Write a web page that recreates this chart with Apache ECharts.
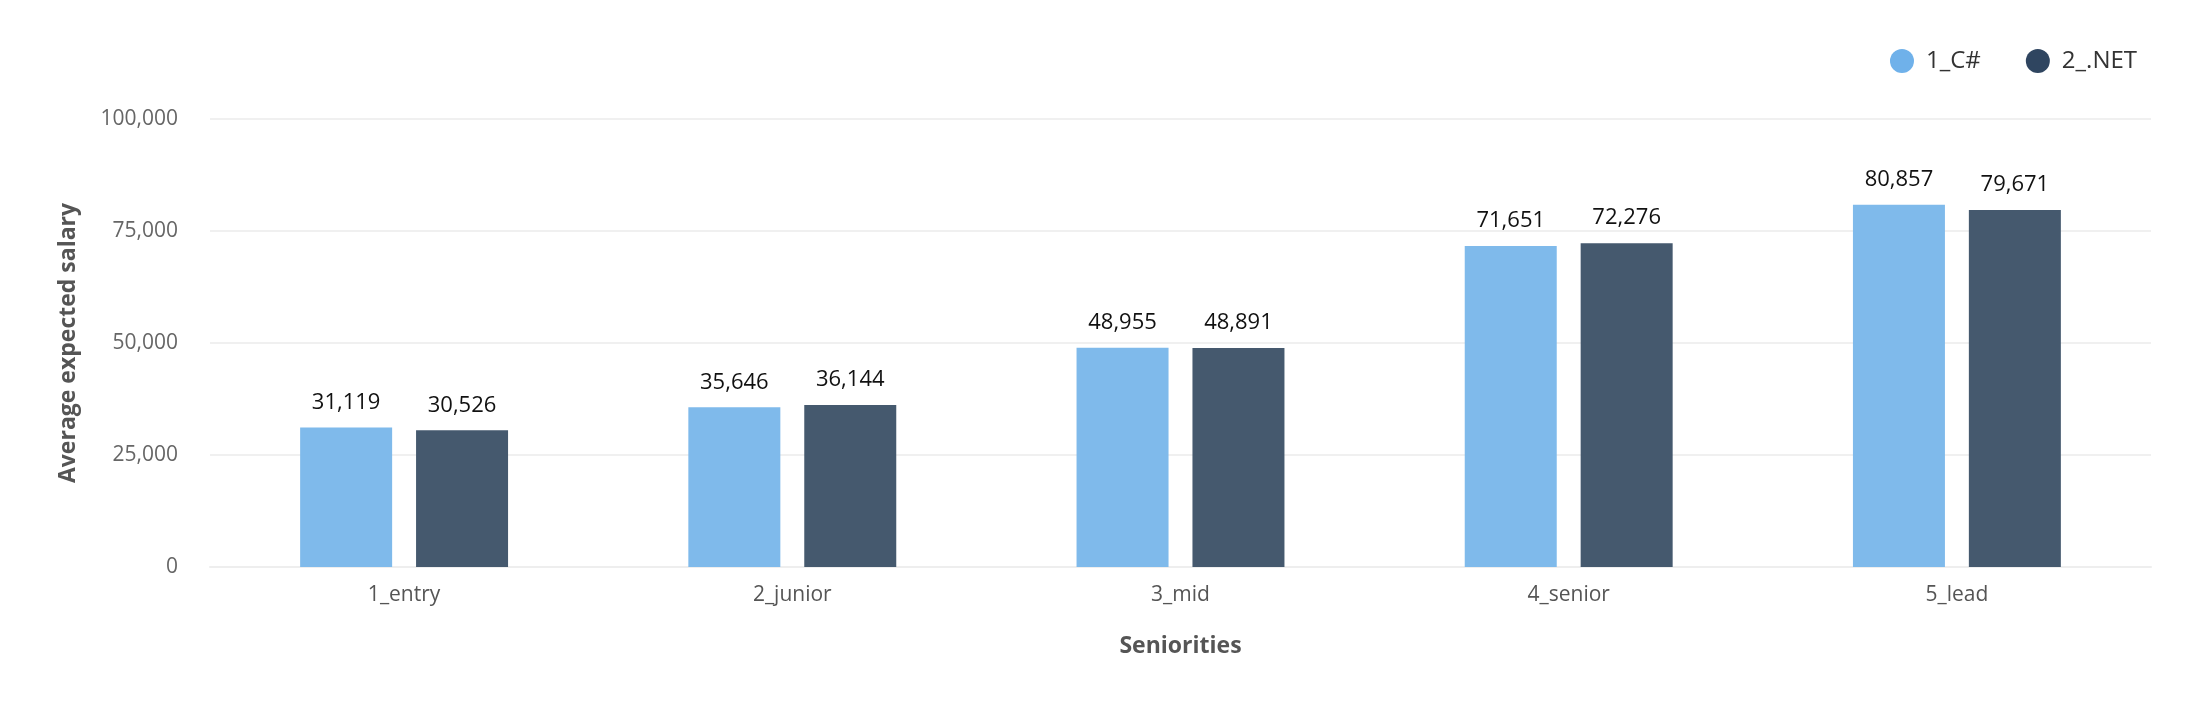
<!DOCTYPE html>
<html lang="en">
  <head>
    <meta charset="UTF-8" />
    <script src="https://cdn.jsdelivr.net/npm/echarts@6/dist/echarts.min.js"></script>
    <title>Average expected salary</title>
    <style>
      html, body { margin: 0; padding: 0; background: #fff; }
    </style>
  </head>
  <body>
    <div id="main" style="width: 2210px; height: 716px"></div>
    <script>
      // categories on the x axis
      const seniorities = ["1_entry", "2_junior", "3_mid", "4_senior", "5_lead"];
      // series
      const csharp = [31119, 35646, 48955, 71651, 80857];
      const dotnet = [30526, 36144, 48891, 72276, 79671];
      const seriesNames = ["1_C#", "2_.NET"];

      const font = "Open Sans";
      const fmt = (v) => v.toLocaleString("en-US");

      const chart = echarts.init(document.getElementById("main"));
      const barLabel = {
        show: true,
        position: "top",
        distance: 14,
        color: "#111",
        fontSize: 22,
        fontFamily: font,
        formatter: (p) => fmt(p.value),
      };

      chart.setOption({
        animation: false,
        textStyle: { fontFamily: font },
        legend: {
          top: 44,
          right: 68,
          icon: "circle",
          itemWidth: 24,
          itemHeight: 24,
          itemGap: 45,
          textStyle: { fontSize: 24, color: "#333", fontFamily: font, padding: [0, 0, 0, 7] },
          data: [
            { name: seriesNames[0], itemStyle: { color: "#6fb1ea" } },
            { name: seriesNames[1], itemStyle: { color: "#2f4560" } },
          ],
        },
        grid: { left: 210, right: 59, top: 119, bottom: 149 },
        xAxis: {
          type: "category",
          data: seniorities,
          name: "Seniorities",
          nameLocation: "middle",
          nameGap: 68,
          nameTextStyle: { fontSize: 23, fontWeight: "bold", color: "#555" },
          axisLine: { lineStyle: { color: "#eeeeee", width: 2 } },
          axisTick: { show: false },
          axisLabel: { fontSize: 21, color: "#555", margin: 18 },
        },
        yAxis: {
          type: "value",
          min: 0,
          max: 100000,
          interval: 25000,
          name: "Average expected salary",
          nameLocation: "middle",
          nameGap: 130,
          nameTextStyle: { fontSize: 23, fontWeight: "bold", color: "#555" },
          axisLabel: { fontSize: 21, color: "#666", margin: 32, formatter: fmt },
          splitLine: { lineStyle: { color: "#f0f0f0", width: 2 } },
        },
        series: [
          {
            name: seriesNames[0],
            type: "bar",
            data: csharp,
            barWidth: 92,
            barGap: "26%",
            itemStyle: { color: "#7fbaeb" },
            label: barLabel,
          },
          {
            name: seriesNames[1],
            type: "bar",
            data: dotnet,
            barWidth: 92,
            itemStyle: { color: "#45596e" },
            label: barLabel,
          },
        ],
      });
    </script>
  </body>
</html>
